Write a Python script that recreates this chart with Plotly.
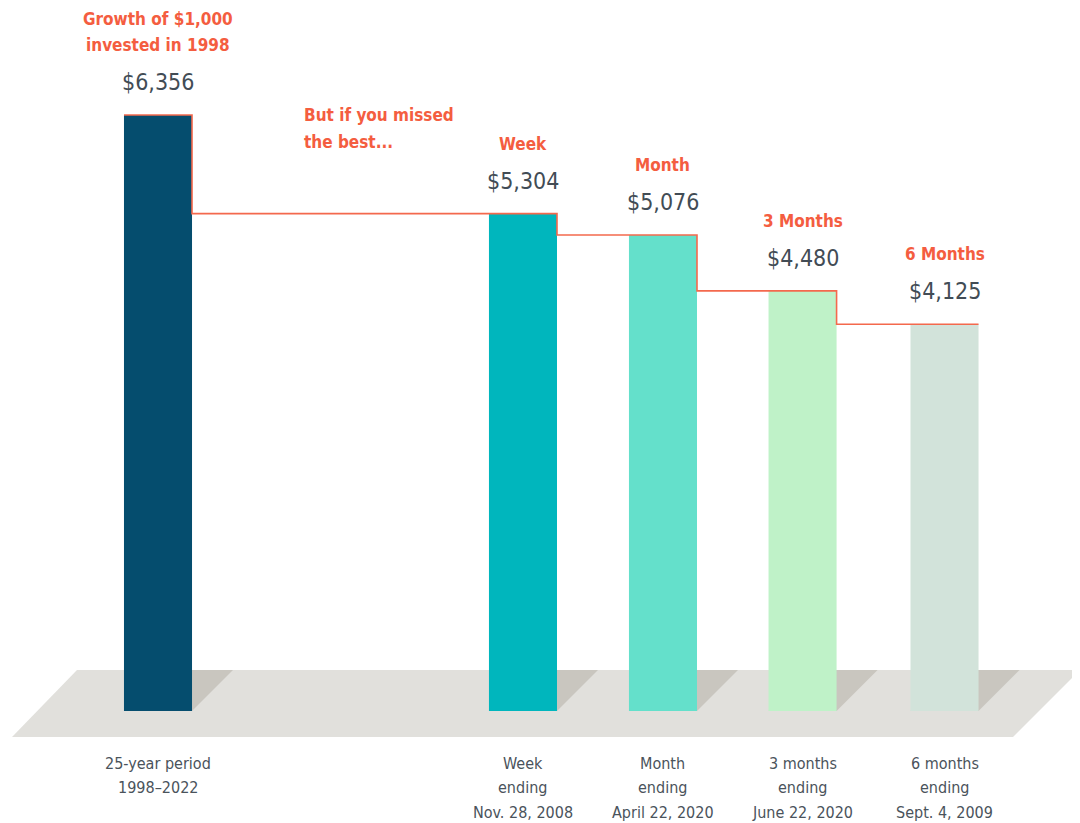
import plotly.graph_objects as go

# ---- data ----
categories = ["25-year period<br>1998–2022", "Week<br>ending<br>Nov. 28, 2008",
              "Month<br>ending<br>April 22, 2020", "3 months<br>ending<br>June 22, 2020",
              "6 months<br>ending<br>Sept. 4, 2009"]
headings = ["Growth of $1,000<br>invested in 1998", "Week", "Month", "3 Months", "6 Months"]
values = [6356, 5304, 5076, 4480, 4125]
value_labels = ["$6,356", "$5,304", "$5,076", "$4,480", "$4,125"]
positions = [0, 2.607, 3.607, 4.604, 5.618]
colors = ["#054d6e", "#00b6bd", "#64e0cb", "#bff2c8", "#d2e3da"]
subtitle = "But if you missed<br>the best..."

BAR_W = 0.486
ORANGE = "#f45d40"
VALUE_GRAY = "#424c55"
LABEL_GRAY = "#4a535b"
FONT = "DejaVu Sans Condensed, Liberation Sans Narrow, Roboto, sans-serif"

# page body offset (html default margin) compensation
OFF = 8
PX_X = 140.0          # pixels per x unit
X0_PAGE = 158.0       # page pixel of x=0
PX_Y = 596.0 / 6356   # pixels per value unit
Y0_PAGE = 711.0       # page pixel of value 0

XR = [(OFF - X0_PAGE) / PX_X, (OFF + 1080 - X0_PAGE) / PX_X]
YR = [(Y0_PAGE - (OFF + 823)) / PX_Y, (Y0_PAGE - OFF) / PX_Y]

def dx(px):
    return px / PX_X

def dy(px):
    return px / PX_Y

def xp(page_px):
    return (page_px - X0_PAGE) / PX_X

fig = go.Figure()

# floor
floor_top = dy(41)
floor_bot = -dy(26)
floor_path = (f"M {xp(12)} {floor_bot} L {xp(77)} {floor_top} L {xp(1080)} {floor_top} "
              f"L {xp(1013)} {floor_bot} Z")
fig.add_shape(type="path", path=floor_path, fillcolor="#e1e0dc", line_width=0, layer="below")

# shadows
for p in positions:
    l, r = p - BAR_W / 2, p + BAR_W / 2
    path = f"M {l} 0 L {r} 0 L {r + dx(41)} {dy(41)} L {l + dx(41)} {dy(41)} Z"
    fig.add_shape(type="path", path=path, fillcolor="#c9c6bf", line_width=0, layer="below")

fig.add_trace(go.Bar(x=positions, y=values, width=BAR_W, marker=dict(color=colors, line_width=0),
                     hoverinfo="skip"))

# step line
sx, sy = [], []
for i, (p, v) in enumerate(zip(positions, values)):
    l, r = p - BAR_W / 2, p + BAR_W / 2
    if i == 0:
        sx.append(l); sy.append(v)
    sx.append(r); sy.append(v)
    if i + 1 < len(values):
        sx.append(r); sy.append(values[i + 1])
fig.add_trace(go.Scatter(x=sx, y=sy, mode="lines", line=dict(color="#f4694d", width=1.6),
                         hoverinfo="skip"))

anns = []
for i, (p, v) in enumerate(zip(positions, values)):
    anns.append(dict(x=p, y=v, text=value_labels[i], showarrow=False, yanchor="middle",
                     yshift=33, font=dict(family=FONT, size=23, color=VALUE_GRAY)))
    hl = headings[i].split("<br>")
    n = len(hl)
    for k, line in enumerate(hl):
        anns.append(dict(x=p, y=v, text="<b>" + line + "</b>", showarrow=False,
                         yanchor="middle", yshift=70 + 26 * (n - 1 - k),
                         font=dict(family=FONT, size=17, color=ORANGE)))
    for k, line in enumerate(categories[i].split("<br>")):
        anns.append(dict(x=p, y=0, text=line, showarrow=False, yanchor="middle",
                         yshift=-52 - 24.5 * k, font=dict(family=FONT, size=16, color=LABEL_GRAY)))

for k, line in enumerate(subtitle.split("<br>")):
    anns.append(dict(x=xp(302), y=values[0], text="<b>" + line + "</b>",
                     showarrow=False, xanchor="left", yanchor="middle", yshift=-27 * k,
                     font=dict(family=FONT, size=17, color=ORANGE)))

fig.update_layout(
    width=1080, height=823, margin=dict(l=0, r=0, t=0, b=0),
    paper_bgcolor="white", plot_bgcolor="white", showlegend=False,
    xaxis=dict(range=XR, visible=False, fixedrange=True),
    yaxis=dict(range=YR, visible=False, fixedrange=True),
    annotations=anns,
)
fig.write_html("out.html")
